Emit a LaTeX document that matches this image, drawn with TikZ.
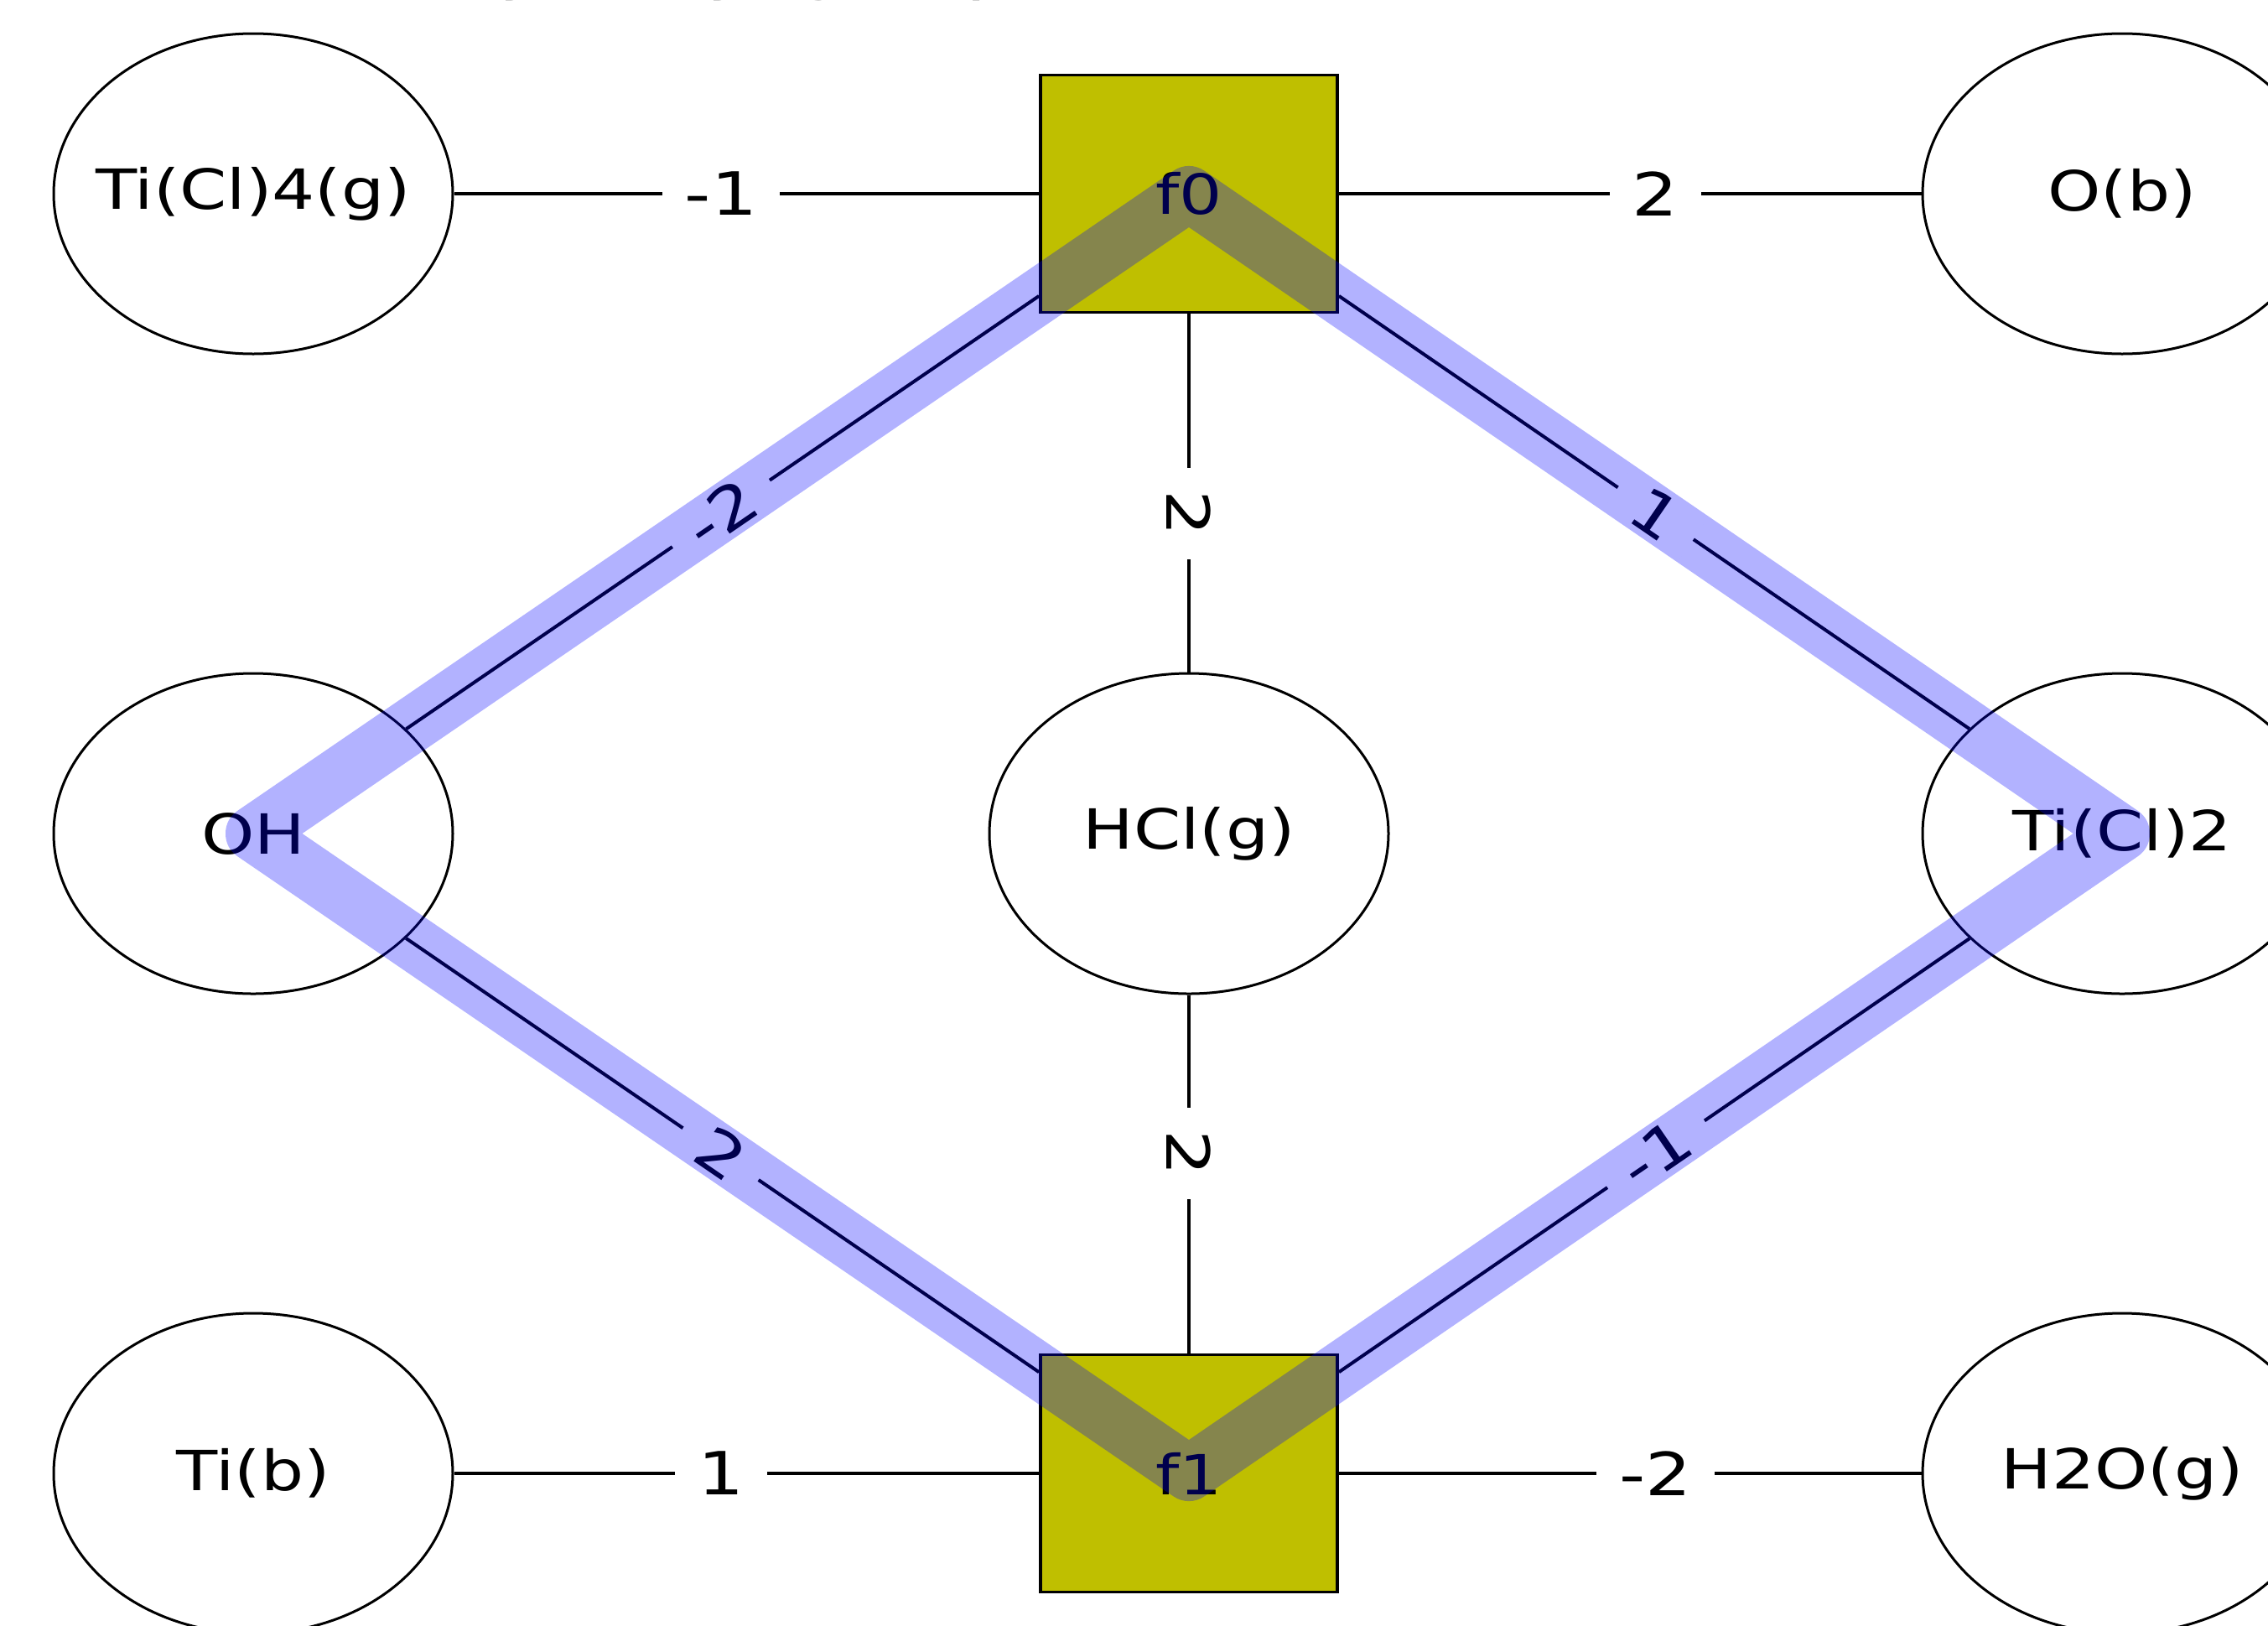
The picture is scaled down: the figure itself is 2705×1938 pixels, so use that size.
\documentclass[tikz,border=0pt]{standalone}
\usepackage{fontspec}
\setmainfont{DejaVu Sans}[FakeStretch=1.22]
\usetikzlibrary{shapes.geometric,calc}
\definecolor{factorfill}{RGB}{191,191,0}
% centred text that does not widen its ellipse
\newcommand{\vartext}[1]{\makebox[0pt][c]{#1}}
\begin{document}
\begin{tikzpicture}[x=1pt,y=-1pt,
  var/.style={ellipse, draw, line width=3pt, fill=white,
    minimum width=476pt, minimum height=382pt, inner sep=0pt,
    font=\fontsize{66}{72}\selectfont},
  factor/.style={rectangle, draw, line width=3.8pt, fill=factorfill,
    minimum width=354pt, minimum height=283pt, inner sep=0pt,
    font=\fontsize{66}{72}\selectfont},
  link/.style={line width=4pt},
  weight/.style={fill=white, inner xsep=27pt, inner ysep=4pt,
    font=\fontsize{71}{78}\selectfont},
  cyclepath/.style={line width=66pt, draw=blue, draw opacity=0.3,
    line cap=round, line join=round}
]
\useasboundingbox (0,0) rectangle (2705,1938);
\clip (0,0) rectangle (2705,1938);

% heading, mostly above the frame
\node[anchor=base west, inner sep=0pt, font=\fontsize{73}{80}\selectfont]
  (heading) at (505,-14) {(hydroxyl groups)};

% variables and factors
\node[var]    (ticl4) at (302,231)  {\vartext{Ti(Cl)4(g)}};
\node[factor] (f0)    at (1418,231) {f0};
\node[var]    (ob)    at (2531,231) {\vartext{O(b)}};
\node[var]    (oh)    at (302,994)  {\vartext{OH}};
\node[var]    (hcl)   at (1418,994) {\vartext{HCl(g)}};
\node[var]    (ticl2) at (2531,994) {\vartext{Ti(Cl)2}};
\node[var]    (tib)   at (302,1757) {\vartext{Ti(b)}};
\node[factor] (f1)    at (1418,1757) {f1};
\node[var]    (h2o)   at (2531,1757) {\vartext{H2O(g)}};

% connectors
\draw[link] (ticl4) -- (f0);
\draw[link] (f0) -- (ob);
\draw[link] (f0) -- (oh);
\draw[link] (f0) -- (hcl);
\draw[link] (f0) -- (ticl2);
\draw[link] (oh) -- (f1);
\draw[link] (hcl) -- (f1);
\draw[link] (ticl2) -- (f1);
\draw[link] (tib) -- (f1);
\draw[link] (f1) -- (h2o);

% stoichiometric weights at the midpoints
\node[weight] (w1)  at ($(ticl4)!0.5!(f0)$) {-1};
\node[weight] (w2)  at ($(f0)!0.5!(ob)$) {2};
\node[weight, rotate=34.4]  (w3)  at ($(f0)!0.5!(oh)$) {-2};
\node[weight, rotate=-90]   (w4)  at ($(f0)!0.5!(hcl)$) {2};
\node[weight, rotate=-34.4] (w5)  at ($(f0)!0.5!(ticl2)$) {1};
\node[weight, rotate=-34.4] (w6)  at ($(oh)!0.5!(f1)$) {2};
\node[weight, rotate=-90]   (w7)  at ($(hcl)!0.5!(f1)$) {2};
\node[weight, rotate=34.4]  (w8)  at ($(ticl2)!0.5!(f1)$) {-1};
\node[weight] (w9)  at ($(tib)!0.5!(f1)$) {1};
\node[weight] (w10) at ($(f1)!0.5!(h2o)$) {-2};

% highlighted cycle
\draw[cyclepath] (f0.center) -- (oh.center) -- (f1.center) -- (ticl2.center) -- cycle;
\end{tikzpicture}
\end{document}
